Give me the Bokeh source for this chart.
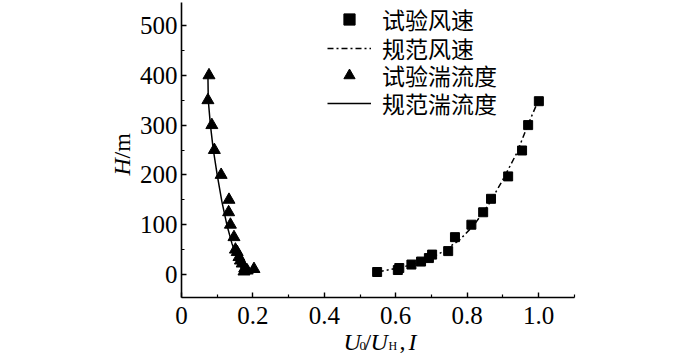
import math
from bokeh.plotting import figure
from bokeh.models import Legend, LegendItem, FixedTicker, Label
from bokeh.embed import file_html
from bokeh.resources import INLINE

# ---- data ----
wind_test_U = [0.548, 0.606, 0.610, 0.644, 0.671, 0.693, 0.702, 0.747, 0.766, 0.812, 0.845, 0.867, 0.915, 0.954, 0.971, 1.001]
wind_test_H = [5, 9, 13, 20, 26, 33, 40, 47, 75, 100, 125, 152, 197, 249, 300, 348]

wind_code_U = [0.55, 0.62, 0.68, 0.73, 0.78, 0.82, 0.86, 0.90, 0.94, 0.97, 1.00]
wind_code_H = [5, 15, 27, 45, 70, 100, 140, 190, 245, 300, 350]

turb_test_I = [0.077, 0.074, 0.085, 0.092, 0.111, 0.133, 0.132, 0.137, 0.147, 0.151, 0.156, 0.161, 0.165, 0.170, 0.177, 0.184, 0.203, 0.175]
turb_test_H = [400, 350, 300, 250, 200, 150, 125, 100, 75, 50, 45, 35, 28, 22, 12, 8, 11, 6]

turb_code_I = [0.074, 0.075, 0.081, 0.089, 0.100, 0.113, 0.127, 0.141, 0.155, 0.169, 0.178]
turb_code_H = [400, 350, 300, 251, 200, 147, 100, 63, 33, 10, 4]

x_ticks = [0, 0.2, 0.4, 0.6, 0.8, 1.0]
x_tick_labels = ["0", "0.2", "0.4", "0.6", "0.8", "1.0"]
x_minor = [0.1, 0.3, 0.5, 0.7, 0.9, 1.1]
y_ticks = [0, 100, 200, 300, 400, 500]
y_minor = [50, 150, 250, 350, 450]

legend_labels = ["试验风速", "规范风速", "试验湍流度", "规范湍流度"]

SERIF = "Liberation Serif"
CJK_MIX = "Liberation Serif, Noto Sans CJK SC"

# pixel geometry of the reference: x=0 at 181 px, 357 px per unit; H=0 at 274 px, 0.498 px per metre
XPX0, XSC = 181.0, 357.0
YPX0, YSC = 274.0, 0.498
W, H = 700, 353
def dx(px):
    return (px - XPX0) / XSC
def dy(py):
    return (YPX0 - py) / YSC

x_lo, x_hi = 0.0, 1.1
y_lo, y_hi = dy(297), dy(2)

p = figure(width=W, height=H, output_backend="svg", toolbar_location=None,
           x_range=(dx(0), dx(W)), y_range=(dy(H), dy(0)),
           min_border_left=0, min_border_right=0, min_border_top=0, min_border_bottom=0)
p.outline_line_color = None
p.grid.visible = False
p.background_fill_color = "white"
p.border_fill_color = "white"

for ax in (p.xaxis[0], p.yaxis[0]):
    ax.axis_line_width = 1.6
    ax.axis_line_color = "black"
    ax.major_tick_in = 5
    ax.major_tick_out = 0
    ax.minor_tick_in = 3
    ax.minor_tick_out = 0
    ax.major_tick_line_width = 1.4
    ax.minor_tick_line_width = 1.2
    ax.major_label_text_font = SERIF
    ax.major_label_text_font_size = "25px"
    ax.major_label_text_color = "black"

xa = p.xaxis[0]
xa.fixed_location = y_lo
xa.bounds = (x_lo, x_hi)
xa.ticker = FixedTicker(ticks=x_ticks, minor_ticks=x_minor)
xa.major_label_overrides = {t: l for t, l in zip(x_ticks, x_tick_labels)}
xa.major_label_standoff = 9

ya = p.yaxis[0]
ya.fixed_location = 0
ya.bounds = (y_lo, y_hi)
ya.ticker = FixedTicker(ticks=y_ticks, minor_ticks=y_minor)
ya.major_label_standoff = 4

r_wt = p.scatter(wind_test_U, wind_test_H, marker="square", size=9, color="black")
r_wc = p.line(wind_code_U, wind_code_H, line_color="black", line_width=1.5, line_dash="6 3 2 3")
r_tt = p.scatter(turb_test_I, turb_test_H, marker="triangle", size=12, color="black")
r_tc = p.line(turb_code_I, turb_code_H, line_color="black", line_width=1.5)

# legend-only renderers (no visible point) so the legend markers are a bit smaller
nan = float("nan")
l_wt = p.scatter(x=[nan], y=[nan], marker="square", size=7, color="black")
l_tt = p.scatter(x=[nan], y=[nan], marker="triangle", size=10, color="black")

# one single-item legend per row, so the row spacing can follow the reference
row_centres = [22, 51, 78, 106]
ROW_H = 28
for lbl, rend, c in zip(legend_labels, [l_wt, r_wc, l_tt, r_tc], row_centres):
    lg = Legend(items=[LegendItem(label=lbl, renderers=[rend])],
                location=(327, H - c - ROW_H / 2), orientation="vertical",
                border_line_alpha=0, background_fill_alpha=0,
                glyph_width=44, glyph_height=ROW_H, label_height=ROW_H, spacing=0,
                padding=0, margin=0, label_standoff=11,
                label_text_font=CJK_MIX, label_text_font_size="23px", label_text_color="black")
    p.add_layout(lg, "center")

def lab(px, py, text, size="24px", style="normal", angle=0.0, baseline="alphabetic"):
    p.add_layout(Label(x=dx(px), y=dy(py), text=text,
                       text_font=SERIF, text_font_size=size, text_font_style=style,
                       text_color="black", angle=angle, text_align="left", text_baseline=baseline))

# x axis label: U0/UH , I
lab(343, 341, "U", style="italic")
lab(359, 345, "0", size="13px")
lab(364, 341, "/")
lab(370, 341, "U", style="italic")
lab(388, 345, "H", size="12px")
lab(399, 341, ",")
lab(408, 341, "I", style="italic")

# y axis label: H/m (rotated)
lab(121, 175, "H", style="italic", angle=math.pi / 2, baseline="middle")
lab(121, 158, "/m", angle=math.pi / 2, baseline="middle")

open("out.html", "w").write(file_html(p, INLINE))
